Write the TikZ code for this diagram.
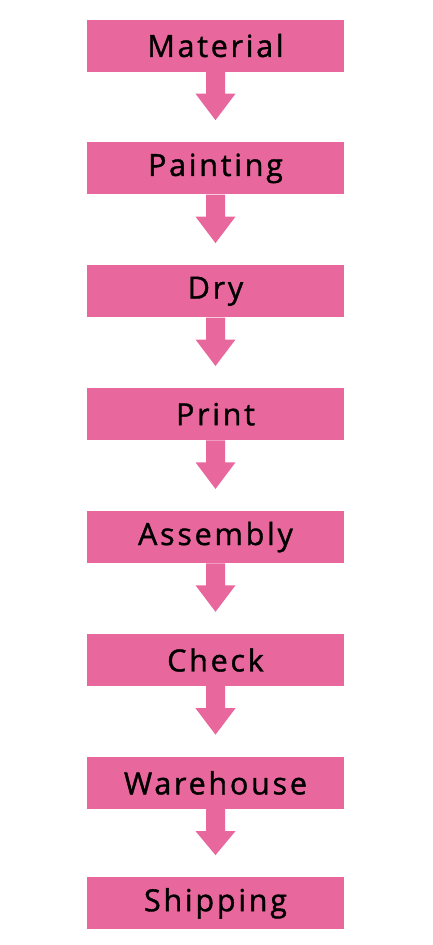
\documentclass[tikz,border=0pt]{standalone}
\usepackage{fontspec}
\newfontfamily\stepfont[LetterSpace=9,FakeBold=1.2]{Open Sans}
\usetikzlibrary{positioning}
\definecolor{flowpink}{RGB}{232,104,158}

\begin{document}
\begin{tikzpicture}[x=1pt,y=1pt,
  stagebox/.style={fill=flowpink,minimum width=257pt,minimum height=52pt,
    inner sep=0pt,font=\stepfont\fontsize{30.5}{36}\selectfont},
  node distance=70.5pt]
% canvas 433 x 945 (units = px of the reference)
\useasboundingbox (0,0) rectangle (433,-945);
\node[stagebox] (material) at (215.5,-45.5) {Material};
\node[stagebox,below=of material] (painting) {Painting};
\node[stagebox,below=of painting] (dry) {Dry};
\node[stagebox,below=of dry] (print) {Print};
\node[stagebox,below=of print] (assembly) {Assembly};
\node[stagebox,below=of assembly] (check) {Check};
\node[stagebox,below=of check] (warehouse) {Warehouse};
\node[stagebox,below=68pt of warehouse] (shipping) {Shipping};
% fat down arrows between stages
\foreach \a/\b in {material/painting,painting/dry,dry/print,print/assembly,
                   assembly/check,check/warehouse,warehouse/shipping}
  \fill[flowpink] ([xshift=-9.5pt]\a.south) -- ([xshift=-9.5pt,yshift=-22pt]\a.south)
    -- ([xshift=-20pt,yshift=-22pt]\a.south) -- ([yshift=22pt]\b.north)
    -- ([xshift=20pt,yshift=-22pt]\a.south) -- ([xshift=9.5pt,yshift=-22pt]\a.south)
    -- ([xshift=9.5pt]\a.south) -- cycle;
\end{tikzpicture}
\end{document}
